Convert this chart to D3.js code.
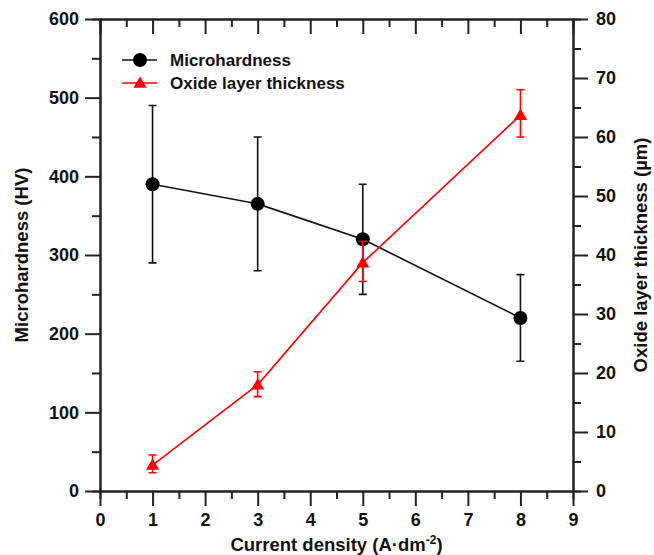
<!DOCTYPE html>
<html>
<head>
<meta charset="utf-8">
<script src="https://cdn.jsdelivr.net/npm/d3@7"></script>
<style>
  body { margin: 0; background: #fff; }
  text { font-family: "Liberation Sans", Arial, sans-serif; }
</style>
</head>
<body>
<div id="chart"></div>
<script>
// data
var density = [1, 3, 5, 8];
var hardness = [390, 365, 320, 220];
var hardnessLow = [290, 280, 250, 165];
var hardnessHigh = [490, 450, 390, 275];
var thickness = [4.4, 18, 38.7, 63.7];
var thicknessLow = [3.1, 16, 35.5, 60];
var thicknessHigh = [6.1, 20.2, 42.3, 68];
var xTicks = [0, 1, 2, 3, 4, 5, 6, 7, 8, 9];
var leftTicks = [0, 100, 200, 300, 400, 500, 600];
var rightTicks = [0, 10, 20, 30, 40, 50, 60, 70, 80];

var margin = { top: 19, right: 81, bottom: 64, left: 100 },
    width = 654 - margin.left - margin.right,
    height = 555 - margin.top - margin.bottom;

var svg = d3.select("#chart")
    .append("svg")
    .attr("width", 654)
    .attr("height", 555)
    .append("g")
    .attr("transform", "translate(" + margin.left + "," + margin.top + ")");

var x = d3.scaleLinear().domain([0, 9]).range([0, width]);
var yL = d3.scaleLinear().domain([0, 600]).range([height, 0]);
var yR = d3.scaleLinear().domain([0, 80]).range([height, 0]);

var minorX = d3.range(0.5, 9, 1);
var minorL = d3.range(50, 600, 100);
var minorR = d3.range(5, 80, 10);

function styleAxis(g) {
    g.selectAll("path").attr("stroke", "#222").attr("stroke-width", 2);
    g.selectAll("line").attr("stroke", "#222").attr("stroke-width", 2);
    g.selectAll("text")
        .attr("font-size", "18px")
        .attr("font-weight", "bold")
        .attr("fill", "#111");
}

// bottom axis
svg.append("g")
    .attr("transform", "translate(0," + height + ")")
    .call(d3.axisBottom(x).tickValues(minorX).tickSize(8).tickFormat(""))
    .call(styleAxis);
svg.append("g")
    .attr("transform", "translate(0," + height + ")")
    .call(d3.axisBottom(x).tickValues(xTicks).tickSize(15).tickSizeOuter(0).tickPadding(7).tickFormat(d3.format("d")))
    .call(styleAxis);

// top axis, ticks inward
svg.append("g")
    .call(d3.axisBottom(x).tickValues(minorX).tickSize(8).tickFormat(""))
    .call(styleAxis);
svg.append("g")
    .call(d3.axisBottom(x).tickValues(xTicks).tickSize(15).tickSizeOuter(0).tickFormat(""))
    .call(styleAxis);

// left axis
svg.append("g")
    .call(d3.axisLeft(yL).tickValues(minorL).tickSize(8).tickFormat(""))
    .call(styleAxis);
svg.append("g")
    .call(d3.axisLeft(yL).tickValues(leftTicks).tickSize(15).tickSizeOuter(0).tickPadding(6))
    .call(styleAxis);

// right axis
svg.append("g")
    .attr("transform", "translate(" + width + ",0)")
    .call(d3.axisRight(yR).tickValues(minorR).tickSize(8).tickFormat(""))
    .call(styleAxis);
svg.append("g")
    .attr("transform", "translate(" + width + ",0)")
    .call(d3.axisRight(yR).tickValues(rightTicks).tickSize(15).tickSizeOuter(0).tickPadding(8))
    .call(styleAxis);

// axis titles
svg.append("text")
    .attr("x", width / 2)
    .attr("y", height + 60)
    .attr("text-anchor", "middle")
    .attr("font-size", "18.5px")
    .attr("font-weight", "bold")
    .attr("fill", "#111")
    .html('Current density (A·dm<tspan dy="-7" font-size="12px">-2</tspan><tspan dy="7">)</tspan>');

svg.append("text")
    .attr("transform", "translate(" + (-72) + "," + (height / 2) + ") rotate(-90)")
    .attr("text-anchor", "middle")
    .attr("font-size", "18.5px")
    .attr("font-weight", "bold")
    .attr("fill", "#111")
    .text("Microhardness (HV)");

svg.append("text")
    .attr("transform", "translate(" + (width + 74) + "," + (height / 2) + ") rotate(-90)")
    .attr("text-anchor", "middle")
    .attr("font-size", "18.5px")
    .attr("font-weight", "bold")
    .attr("fill", "#111")
    .text("Oxide layer thickness (µm)");

var idx = d3.range(density.length);
var tri = d3.symbol().type(d3.symbolTriangle).size(75);

/* microhardness series */
var gH = svg.append("g");
gH.append("path")
    .datum(idx)
    .attr("fill", "none")
    .attr("stroke", "#111")
    .attr("stroke-width", 1.6)
    .attr("d", d3.line().x(function(i) { return x(density[i]); }).y(function(i) { return yL(hardness[i]); }));

gH.selectAll(".err")
    .data(idx)
    .enter()
    .append("path")
    .attr("fill", "none")
    .attr("stroke", "#111")
    .attr("stroke-width", 1.6)
    .attr("d", function(i) {
        var cx = x(density[i]), lo = yL(hardnessLow[i]), hi = yL(hardnessHigh[i]);
        return "M" + cx + "," + lo + "V" + hi + "M" + (cx - 4) + "," + hi + "H" + (cx + 4) + "M" + (cx - 4) + "," + lo + "H" + (cx + 4);
    });

gH.selectAll("circle")
    .data(idx)
    .enter()
    .append("circle")
    .attr("cx", function(i) { return x(density[i]); })
    .attr("cy", function(i) { return yL(hardness[i]); })
    .attr("r", 7)
    .attr("fill", "#000");

/* oxide thickness series */
var gT = svg.append("g");
gT.append("path")
    .datum(idx)
    .attr("fill", "none")
    .attr("stroke", "#ff0000")
    .attr("stroke-width", 1.6)
    .attr("d", d3.line().x(function(i) { return x(density[i]); }).y(function(i) { return yR(thickness[i]); }));

gT.selectAll(".err")
    .data(idx)
    .enter()
    .append("path")
    .attr("fill", "none")
    .attr("stroke", "#ff0000")
    .attr("stroke-width", 1.6)
    .attr("d", function(i) {
        var cx = x(density[i]), lo = yR(thicknessLow[i]), hi = yR(thicknessHigh[i]);
        return "M" + cx + "," + lo + "V" + hi + "M" + (cx - 4) + "," + hi + "H" + (cx + 4) + "M" + (cx - 4) + "," + lo + "H" + (cx + 4);
    });

gT.selectAll(".tri")
    .data(idx)
    .enter()
    .append("path")
    .attr("transform", function(i) { return "translate(" + x(density[i]) + "," + (yR(thickness[i]) + 1) + ")"; })
    .attr("d", tri)
    .attr("fill", "#ff0000");

/* legend */
var legend = svg.append("g").attr("transform", "translate(22,41)");
legend.append("line").attr("x1", 0).attr("x2", 35).attr("y1", 0).attr("y2", 0)
    .attr("stroke", "#111").attr("stroke-width", 1.6);
legend.append("circle").attr("cx", 18).attr("cy", 0).attr("r", 7).attr("fill", "#000");
legend.append("text").attr("x", 48).attr("y", 6)
    .attr("font-size", "17px").attr("font-weight", "bold").attr("fill", "#111")
    .text("Microhardness");

legend.append("line").attr("x1", 0).attr("x2", 35).attr("y1", 23).attr("y2", 23)
    .attr("stroke", "#ff0000").attr("stroke-width", 1.6);
legend.append("path").attr("transform", "translate(18,24)").attr("d", tri).attr("fill", "#ff0000");
legend.append("text").attr("x", 48).attr("y", 29)
    .attr("font-size", "17px").attr("font-weight", "bold").attr("fill", "#111")
    .text("Oxide layer thickness");
</script>
</body>
</html>
